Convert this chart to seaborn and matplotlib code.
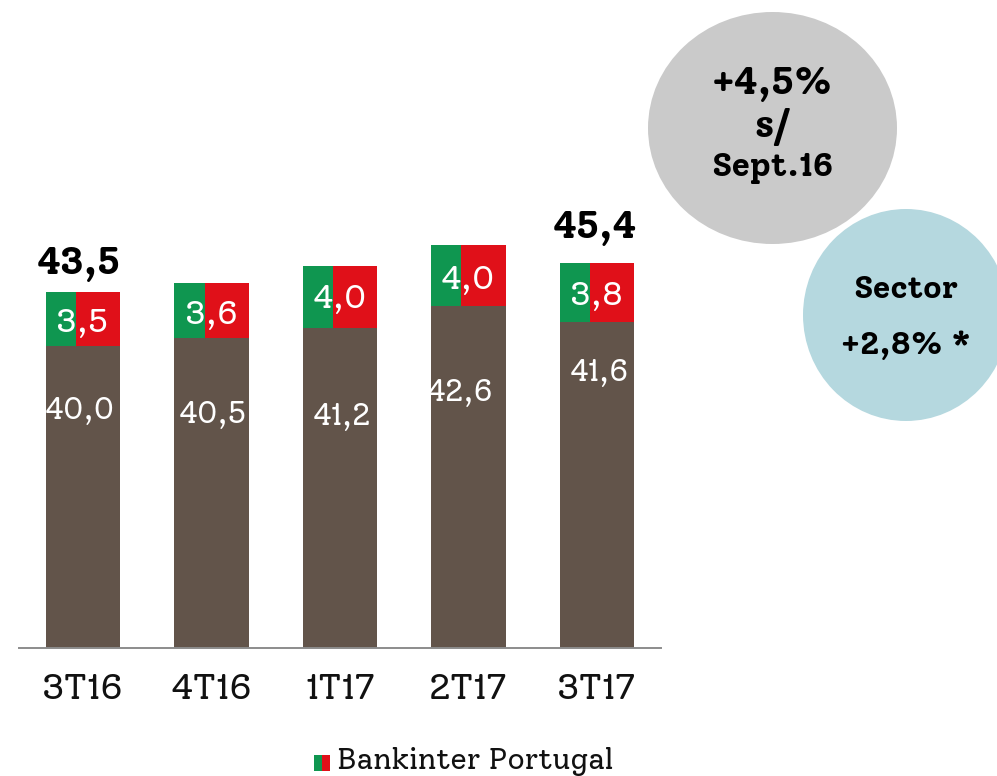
import matplotlib
matplotlib.use("Agg")
import matplotlib.pyplot as plt
from matplotlib.patches import Ellipse, Rectangle
import pandas as pd
import seaborn as sns

categories = ["3T16", "4T16", "1T17", "2T17", "3T17"]
sector_values = [40.0, 40.5, 41.2, 42.6, 41.6]
portugal_values = [3.5, 3.6, 4.0, 4.0, 3.8]
total_labels = {0: "43,5", 4: "45,4"}

BROWN = "#62544a"
GREEN = "#0f9650"
RED = "#e01019"


def es(v):
    return f"{v:.1f}".replace(".", ",")


W, H = 997, 776
sns.set_theme(style="white")
plt.rcParams["font.family"] = ["Solway", "DejaVu Serif"]
fig = plt.figure(figsize=(W / 100, H / 100), dpi=100, facecolor="white")

# Main axes: truncated scale as in the reference (about 15.4 px per unit)
ax = fig.add_axes([19 / W, 1 - 648 / H, 642 / W, 500 / H])
df = pd.DataFrame({"q": categories, "v": sector_values})
bar_w = 0.578
sns.barplot(data=df, x="q", y="v", color=BROWN, saturation=1, width=bar_w, ax=ax, linewidth=0, edgecolor="none")
green_share = 0.405
for i, (b, s) in enumerate(zip(sector_values, portugal_values)):
    ax.bar(i - bar_w / 2 + bar_w * green_share / 2, s, bar_w * green_share, bottom=b, color=GREEN, lw=0)
    ax.bar(i + bar_w / 2 - bar_w * (1 - green_share) / 2, s, bar_w * (1 - green_share), bottom=b, color=RED, lw=0)
ax.set_xlim(-0.5, 4.5)
ax.set_ylim(20.4, 20.4 + 500 / 15.4)
ax.set_xlabel("")
ax.set_ylabel("")
ax.set_yticks([])
ax.tick_params(axis="x", length=0, pad=18, labelsize=26, colors="#111111")
for side in ["top", "left", "right"]:
    ax.spines[side].set_visible(False)
ax.spines["bottom"].set_color("#8c8c8c")
ax.spines["bottom"].set_linewidth(1.4)
ax.patch.set_alpha(0)

# Overlay in pixel coordinates for callouts and hand-placed labels
ov = fig.add_axes([0, 0, 1, 1], zorder=5)
ov.set_xlim(0, W)
ov.set_ylim(H, 0)
ov.axis("off")
ov.patch.set_alpha(0)

sector_xy = [(80, 411), (213, 415), (342, 417), (460, 393), (599, 373)]
portugal_xy = [(82, 324), (211, 316), (340, 300), (468, 281), (596, 297)]
for v, (x, y) in zip(sector_values, sector_xy):
    ov.text(x, y, es(v), color="white", fontsize=22, ha="center", va="center")
for v, (x, y) in zip(portugal_values, portugal_xy):
    ov.text(x, y, es(v), color="white", fontsize=24, ha="center", va="center")
total_xy = {0: (79, 264), 4: (595, 228)}
for i, t in total_labels.items():
    ov.text(*total_xy[i], t, color="black", fontsize=27.5, fontweight="bold", ha="center", va="center")

ov.add_patch(Ellipse((772.5, 128), 249, 232, color="#cacaca", lw=0))
ov.add_patch(Ellipse((906, 315), 206, 212, color="#b5d8df", lw=0, clip_on=True))
ov.text(772, 84, "+4,5%", fontsize=27.5, fontweight="bold", color="black", ha="center", va="center")
ov.text(772, 127, "s/", fontsize=27.5, fontweight="bold", color="black", ha="center", va="center")
ov.text(772, 168, "Sept.16", fontsize=24, fontweight="bold", color="black", ha="center", va="center")
ov.text(906, 290, "Sector", fontsize=23, fontweight="bold", color="black", ha="center", va="center")
ov.text(906, 346, "+2,8% *", fontsize=23, fontweight="bold", color="black", ha="center", va="center")

ov.add_patch(Rectangle((314, 755), 8, 16, color=GREEN, lw=0))
ov.add_patch(Rectangle((322, 755), 8, 16, color=RED, lw=0))
ov.text(337, 762, "Bankinter Portugal", fontsize=21.5, color="#111111", ha="left", va="center")

fig.savefig("out.png", dpi=100, facecolor="white")
